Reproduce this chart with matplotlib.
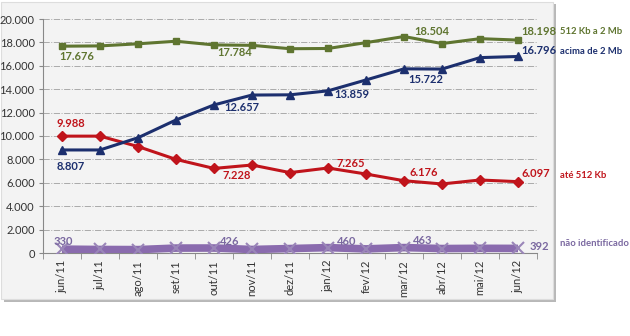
import numpy as np
import matplotlib.pyplot as plt
from matplotlib.patches import Rectangle

plt.rcParams["font.family"] = ["Lato", "DejaVu Sans"]

months = ["jun/11", "jul/11", "ago/11", "set/11", "out/11", "nov/11", "dez/11",
          "jan/12", "fev/12", "mar/12", "abr/12", "mai/12", "jun/12"]
faixa_512_2m = [17676, 17700, 17880, 18100, 17784, 17750, 17460, 17480, 17980, 18504, 17900, 18320, 18198]
acima_2m = [8807, 8807, 9850, 11370, 12657, 13500, 13520, 13859, 14790, 15740, 15722, 16700, 16796]
ate_512 = [9988, 9988, 9100, 8000, 7228, 7520, 6870, 7265, 6750, 6176, 5900, 6240, 6097]
nao_ident = [330, 300, 290, 420, 426, 300, 380, 460, 350, 463, 380, 400, 392]

series_names = ["512 Kb a 2 Mb", "acima de 2 Mb", "até 512 Kb", "não identificado"]
c_green, c_blue, c_red, c_purple = "#5f7530", "#1c2f6e", "#c0141b", "#8a6bae"
c_purple_txt = "#7a68a0"

fig = plt.figure(figsize=(6.3, 3.36), dpi=100)
fig.patch.set_facecolor("white")

# chart box with a soft shadow
W, H = 630.0, 336.0
fig.patches.append(Rectangle((4 / W, 1 - 302 / H), 552 / W, 298 / H, transform=fig.transFigure,
                             facecolor="#b8b8b8", edgecolor="none", zorder=-2))
fig.patches.append(Rectangle((1 / W, 1 - 299 / H), 552 / W, 297 / H, transform=fig.transFigure,
                             facecolor="#f3f3f3", edgecolor="#dddddd", lw=0.8, zorder=-1))

ax = fig.add_axes([43 / W, 1 - 253 / H, (537 - 43) / W, (253 - 19) / H])
ax.set_facecolor("none")
x = np.arange(len(months))

ax.plot(x, nao_ident, color=c_purple, lw=5.5, marker="x", ms=8, mew=1.5, mec="#9a86b8",
        solid_capstyle="butt", zorder=3)
ax.plot(x, ate_512, color=c_red, lw=2.2, marker="D", ms=5, zorder=4)
ax.plot(x, acima_2m, color=c_blue, lw=2.2, marker="^", ms=6, zorder=4)
ax.plot(x, faixa_512_2m, color=c_green, lw=2.2, marker="s", ms=5, zorder=4)

ax.set_xlim(-0.5, 12.5)
ax.set_ylim(0, 20000)
ax.set_yticks(np.arange(0, 20001, 2000))
ax.set_yticklabels([f"{v:,}".replace(",", ".") for v in range(0, 20001, 2000)], fontsize=8, color="#333333")
ax.set_xticks(x)
ax.set_xticklabels(months, rotation=90, fontsize=8, color="#333333")
ax.set_xticks(np.arange(-0.5, 12.6, 1), minor=True)
ax.tick_params(axis="x", which="major", length=0, pad=5)
ax.tick_params(axis="x", which="minor", length=4, color="#888888")
ax.tick_params(axis="y", length=3, color="#888888", pad=3)
ax.grid(axis="y", color="#aaaaaa", lw=0.7, ls="-.")
for s in ["top", "right"]:
    ax.spines[s].set_visible(False)
ax.spines["left"].set_color("#888888")
ax.spines["bottom"].set_color("#888888")


def lab(i, vals, dx, dy, color, ha="center"):
    # dx, dy in pixels, turned into points
    ax.annotate(f"{vals[i]:,}".replace(",", "."), (x[i], vals[i]), xytext=(dx * 0.72, dy * 0.72),
                textcoords="offset points", ha=ha, va="center", fontsize=8,
                fontweight="bold", color=color, zorder=6)


lab(0, faixa_512_2m, 15, -10, c_green)
lab(4, faixa_512_2m, 21, -8, c_green)
lab(9, faixa_512_2m, 28, 5, c_green)
lab(12, faixa_512_2m, 3, 9, c_green, ha="left")

lab(0, acima_2m, 9, -17, c_blue)
lab(4, acima_2m, 28, -3, c_blue)
lab(7, acima_2m, 24, -4, c_blue)
lab(10, acima_2m, -16, -10, c_blue)
lab(12, acima_2m, 3, 6, c_blue, ha="left")

lab(0, ate_512, 9, 13, c_red)
lab(4, ate_512, 23, -7, c_red)
lab(7, ate_512, 23, 4, c_red)
lab(9, ate_512, 20, 8, c_red)
lab(12, ate_512, 3, 8, c_red, ha="left")

lab(0, nao_ident, 1, 8, c_purple_txt)
lab(4, nao_ident, 16, 7, c_purple_txt)
lab(7, nao_ident, 19, 6, c_purple_txt)
lab(9, nao_ident, 19, 7, c_purple_txt)
lab(12, nao_ident, 12, 2, c_purple_txt, ha="left")

# series names outside the plot area
for name, y_px, color in zip(series_names, [32, 51, 176, 244], [c_green, c_blue, c_red, c_purple_txt]):
    fig.text(560 / W, 1 - y_px / H, name, fontsize=6.8, fontweight="bold", color=color, va="center")

fig.savefig("out.png", dpi=100)
